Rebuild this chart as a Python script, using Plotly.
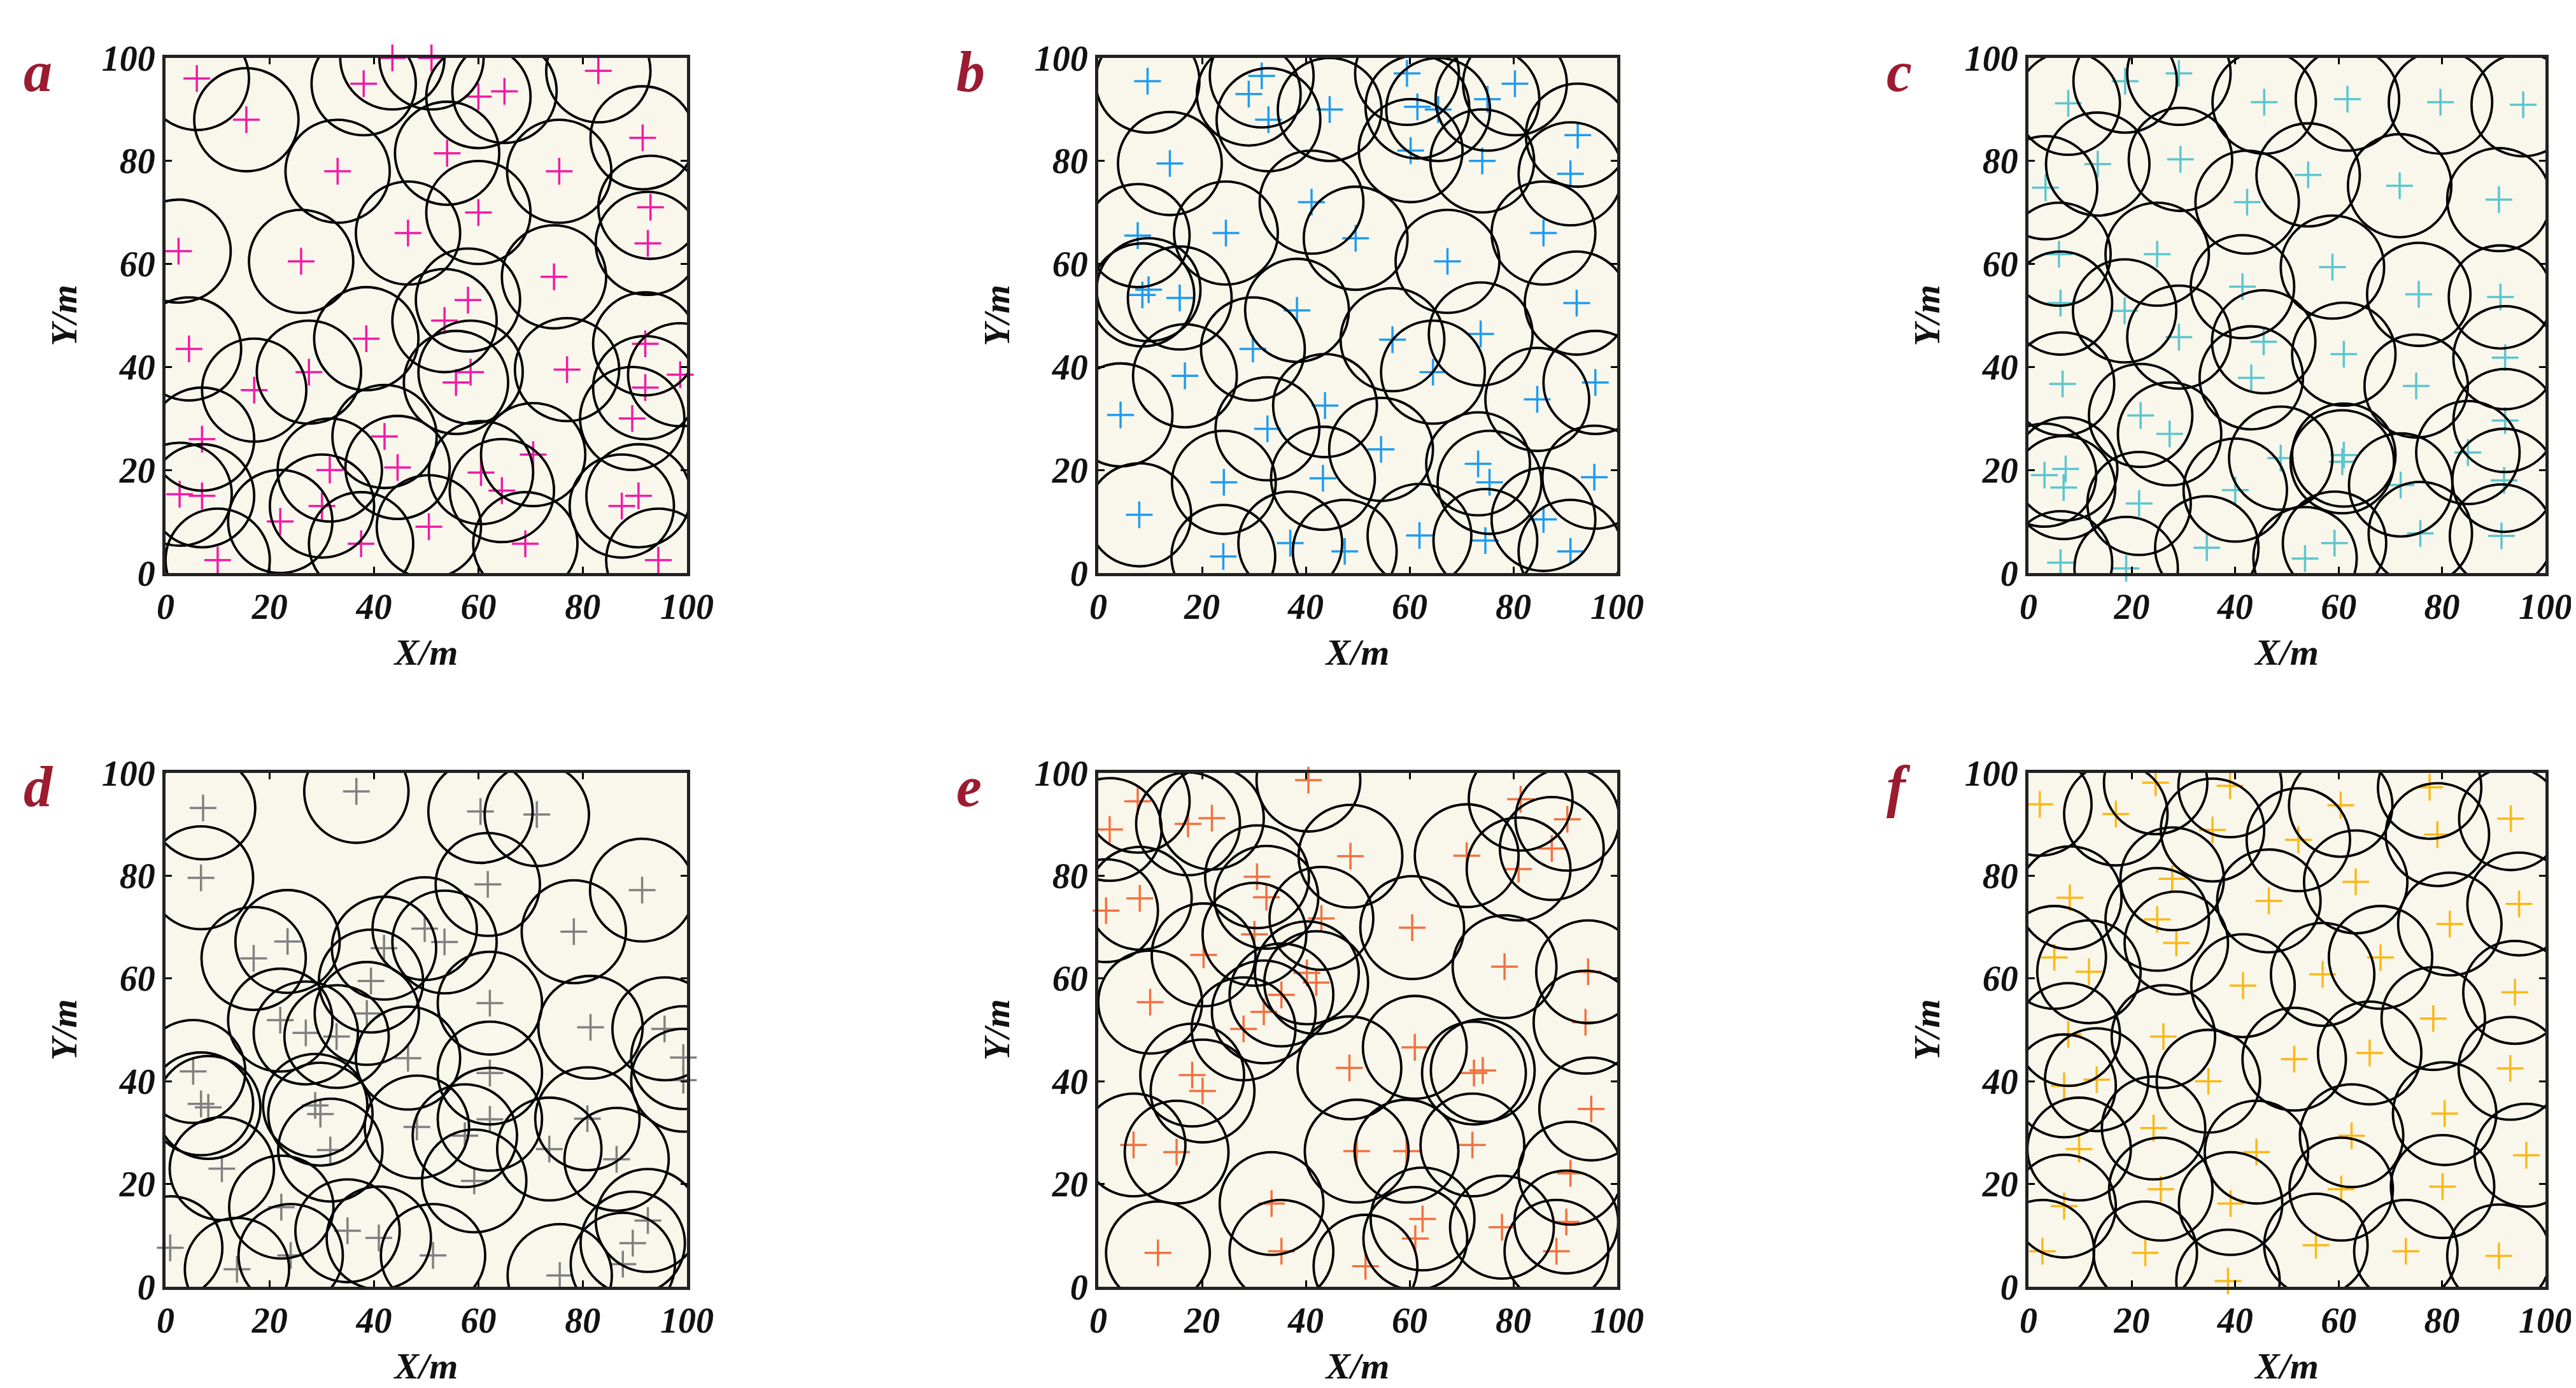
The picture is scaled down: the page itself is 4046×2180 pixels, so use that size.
import plotly.graph_objects as go

# sensor positions (m) per panel
a_x = [6, 15.5, 38, 43.5, 51, 60, 65, 83, 91.5, 54, 33, 75.5, 93, 60, 46.5, 2.5, 26, 92.5, 74.5, 58,
       53.5, 4.5, 38.5, 27.5, 17, 58.5, 55.7, 77, 92, 98.7, 92, 89.5, 7, 42, 44.5, 31.5, 60.5, 70.5, 64.5, 2.7,
       7, 30, 22, 50.5, 37.5, 69, 87.5, 90.7, 10, 94.5]
a_y = [96, 88, 95, 100, 100, 92.5, 93.5, 97.5, 84.5, 81.5, 78, 78, 71, 70, 66, 62.5, 60.5, 64, 57.5, 53,
       49, 43.5, 45.5, 39, 35.5, 39, 37, 39.5, 44.5, 38.5, 36, 30, 26, 26.5, 20.5, 20, 19.5, 23, 16, 15.3,
       15, 13, 10, 9, 5.7, 5.7, 13, 15, 2.5, 2.5]

b_x = [9.5, 31.5, 29, 32.8, 44.6, 59.5, 61.5, 65.5, 75, 80.3, 60.2, 74, 92.4, 91, 13.8, 41.1, 24.6, 7.6, 49.6, 67.3,
       85.8, 9.7, 8.5, 15.7, 38.3, 92.2, 56.7, 73.7, 29.8, 16.7, 64.5, 95.8, 84.6, 43.7, 4.3, 32.6, 54.5, 73.2, 75.4, 95.6,
       24.2, 43.3, 7.9, 37, 47.5, 61.9, 74.6, 85.8, 91, 24.1]
b_y = [95.5, 96.5, 93, 88, 90, 97, 90.5, 90, 92, 95, 82, 80, 85, 77.5, 79.5, 72, 66, 65.5, 65, 60.5,
       66, 55, 54, 53.4, 51, 52.4, 45.3, 46.4, 43.5, 38.3, 39, 37, 33.7, 32.5, 30.7, 28, 24, 21.2, 17.6, 18.6,
       17.6, 18.4, 11.3, 5.8, 4.2, 7.3, 6.3, 10.4, 4.2, 3.2]

c_x = [7.7, 18.7, 29.1, 45.6, 61.7, 79.7, 95.7, 13.4, 29.4, 3.3, 54.1, 71.8, 91, 42.3, 5.9, 24.9, 58.8, 41.4, 75.5, 91.3,
       6.2, 18.6, 29.1, 45.5, 61, 92.2, 6.6, 43.1, 75, 21.7, 27.3, 92.2, 85, 48.8, 61, 60.7, 7.2, 3.1, 6.8, 72,
       92, 40, 21.4, 34.5, 59.2, 75.8, 91.5, 53.5, 6.2, 18.9]
c_y = [91.2, 95.5, 97, 91.4, 92, 91.4, 90.9, 79.4, 80.3, 74.8, 77.3, 75.2, 72.5, 72, 61.9, 61.9, 59.4, 55.6, 54.1, 53.6,
       52.4, 50.9, 45.8, 44.9, 42.5, 41.8, 36.7, 37.9, 36.3, 30.6, 27, 29.6, 23.4, 22.3, 22.9, 21.6, 20.2, 19, 16.6, 17.1,
       18, 16.1, 13.5, 4.9, 5.8, 7.7, 7.2, 2.8, 2, 0.9]

d_x = [7.2, 36.6, 60.4, 71.2, 6.8, 61.8, 91.4, 78.3, 23.4, 16.9, 49.7, 53.5, 41.9, 39.4, 62.2, 38.6, 22, 26.9, 32.8, 46.5,
       81.5, 95.7, 99.3, 99.3, 5.3, 62.2, 6.8, 8.2, 28.7, 29.7, 62.2, 48.2, 57.4, 80.9, 73.6, 86.5, 31.6, 10.8, 59.2, 22.2,
       34.9, 40.9, 0.9, 24, 51.3, 92.5, 89.6, 87.7, 75.6, 13.7]
d_y = [93.2, 96.4, 92.5, 91.9, 79.6, 78.3, 77.2, 69.1, 67.2, 63.9, 69.7, 67.1, 65.9, 59.5, 55.2, 53.2, 51.9, 49.4, 48.7, 44.5,
       50.5, 50.2, 44.6, 40.2, 41.9, 41.6, 35.6, 34.9, 35.3, 33.6, 32.6, 31.1, 29.4, 32.7, 26.8, 24.8, 26.6, 23, 20.6, 15.5,
       10.9, 9.5, 7.6, 6.1, 6.1, 12.9, 8.5, 4.4, 2.2, 3.4]

e_x = [7.6, 2.2, 17.3, 21.9, 40.5, 48.6, 71, 81.4, 90.4, 87.4, 81, 30.6, 32.4, 8, 1.5, 43, 60.5, 30.1, 20.3, 78.3,
       94.4, 40.2, 42, 35.3, 10, 31.9, 28, 93.9, 61, 48.4, 72.4, 74.1, 18.1, 20.1, 95, 6.8, 15.1, 49.8, 59.4, 72.1,
       91, 33.4, 62.5, 61.1, 77.8, 90.2, 88.3, 35.3, 11.5, 51.5]
e_y = [94.5, 89, 90.1, 91.2, 98.6, 83.8, 83.9, 94.9, 91, 85.3, 81.3, 79.8, 75.8, 75.6, 73.2, 71.7, 69.9, 68.6, 64.6, 62.3,
       61.3, 61.1, 59.2, 56.8, 55.4, 53.5, 50.2, 51.5, 46.6, 42.6, 41.6, 42.1, 41.2, 38.1, 34.6, 27.6, 26.2, 26.4, 26.4, 27.6,
       22.1, 16.2, 13.2, 9.4, 11.6, 12.6, 6.9, 6.9, 6.6, 4]

f_x = [2.2, 16.9, 24.6, 39, 35.6, 60.4, 52.2, 77.6, 79.1, 93.3, 27.8, 8, 63.3, 46.5, 94.9, 81.5, 24.9, 28.6, 5, 11.7,
       68.1, 56.9, 41.5, 94.1, 78.3, 7.7, 26.1, 66, 51.4, 93.2, 6.9, 13.2, 34.8, 80.5, 24.2, 62.5, 9.8, 44.1, 96.3, 25.6,
       60.5, 80.1, 39.1, 6.9, 55.6, 2.7, 22.6, 73, 91, 38.6]
f_y = [93.9, 92, 98.1, 97.5, 88.9, 93.7, 87, 97.2, 88, 91.1, 79.4, 75.7, 78.8, 75.1, 74.5, 70.6, 71.5, 66.9, 64.1, 61.3,
       64.1, 60.8, 58.6, 57.3, 52.2, 49.1, 48.7, 45.5, 44.3, 42.5, 39.1, 40.3, 40, 33.7, 30.9, 29.4, 26.8, 26.2, 25.6, 19,
       19, 19.5, 16.2, 15.7, 8.1, 6.9, 6.6, 6.9, 6, 1.1]

panels = [("a", a_x, a_y, "#f21aa5"), ("b", b_x, b_y, "#1f9bf0"), ("c", c_x, c_y, "#5cc6cc"),
          ("d", d_x, d_y, "#808080"), ("e", e_x, e_y, "#f3713f"), ("f", f_x, f_y, "#fbb817")]
radius = 10

W, H = 4046, 2180
xdom = [(252 / W, 1071 / W), (1717 / W, 2532 / W), (3178 / W, 3990 / W)]
ydom = [(1 - 892 / H, 1 - 83 / H), (1 - 2013 / H, 1 - 1206 / H)]

font = dict(family="Liberation Serif", color="#111111", weight="bold", style="italic")

fig = go.Figure()
shapes = []
annotations = []
for i, (lab, xs, ys, col) in enumerate(panels):
    n = i + 1
    xa = "x" if n == 1 else f"x{n}"
    ya = "y" if n == 1 else f"y{n}"
    fig.add_trace(go.Scatter(x=xs, y=ys, mode="markers", xaxis=xa, yaxis=ya, showlegend=False,
                             marker=dict(symbol="cross-thin", size=30, line=dict(color=col, width=3.5)),
                             cliponaxis=False))
    for cx, cy in zip(xs, ys):
        shapes.append(dict(type="circle", xref=xa, yref=ya, x0=cx - radius, x1=cx + radius,
                           y0=cy - radius, y1=cy + radius, line=dict(color="black", width=3.8), layer="above"))
    dx = xdom[i % 3]
    dy = ydom[i // 3]
    ax = dict(domain=list(dx), range=[0, 100], tickvals=[0, 20, 40, 60, 80, 100], ticks="inside", ticklen=10,
              tickwidth=3, tickcolor="black", showline=True, linecolor="#222", linewidth=5, mirror="ticks",
              showgrid=False, zeroline=False, tickfont=dict(size=56, **font), anchor=ya, automargin=False)
    ay = dict(ax, domain=list(dy), anchor=xa)
    ax["title"] = dict(text="X/m", font=dict(size=58, **font), standoff=22)
    ay["title"] = dict(text="Y/m", font=dict(size=58, **font), standoff=22)
    fig.update_layout(**{("xaxis" if n == 1 else f"xaxis{n}"): ax, ("yaxis" if n == 1 else f"yaxis{n}"): ay})
    annotations.append(dict(text=lab, xref="paper", yref="paper", x=dx[0] - 225 / W, y=dy[1] + 30 / H,
                            xanchor="left", yanchor="top", showarrow=False,
                            font=dict(size=90, family="Liberation Serif", color="#9b1b30",
                                      weight="bold", style="italic")))

fig.update_layout(width=W, height=H, plot_bgcolor="#f9f7ec", paper_bgcolor="white",
                  margin=dict(l=0, r=0, t=0, b=0, autoexpand=False), shapes=shapes, annotations=annotations)
fig.write_html("out.html")
